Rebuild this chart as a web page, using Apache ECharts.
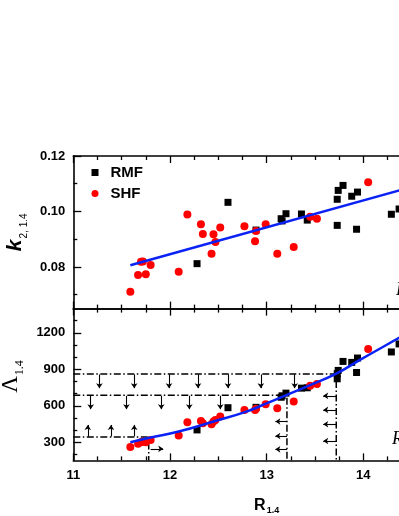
<!DOCTYPE html>
<html>
<head>
<meta charset="utf-8">
<script src="https://cdn.jsdelivr.net/npm/echarts@6/dist/echarts.min.js"></script>
<style>
  html, body { margin: 0; padding: 0; background: #fff; }
  #main { width: 399px; height: 516px; }
</style>
</head>
<body>
<div id="main"></div>
<script>
// RMF models (squares)
var rmfR = [12.28, 12.60, 12.89, 13.15, 13.16, 13.20, 13.36, 13.42, 13.73, 13.73, 13.74, 13.79, 13.88, 13.94, 13.93, 14.29, 14.37];
var rmfK = [0.0812, 0.1033, 0.0933, 0.0974, 0.0966, 0.0992, 0.0991, 0.0969, 0.0950, 0.1044, 0.1076, 0.1094, 0.1055, 0.1070, 0.0936, 0.0990, 0.1009];
var rmfLambda = [401, 584, 587, 670, 682, 704, 745, 748, 822, 864, 891, 965, 957, 993, 874, 1043, 1109];

// SHF models (circles)
var shfR = [11.59, 11.67, 11.70, 11.72, 11.75, 11.80, 12.09, 12.18, 12.32, 12.34, 12.43, 12.45, 12.47, 12.52, 12.77, 12.88, 12.89, 12.99, 13.11, 13.28, 13.45, 13.52, 14.05];
var shfK = [0.0711, 0.0771, 0.0819, 0.0820, 0.0774, 0.0807, 0.0783, 0.0989, 0.0954, 0.0919, 0.0848, 0.0918, 0.0890, 0.0942, 0.0947, 0.0893, 0.0930, 0.0954, 0.0848, 0.0872, 0.0981, 0.0974, 0.1105];
var shfLambda = [260, 288, 300, 306, 299, 318, 355, 465, 475, 456, 448, 470, 483, 511, 566, 566, 576, 613, 580, 635, 764, 779, 1068];

// fits
var fitKR = [11.59, 14.6];
var fitKVal = [0.0806, 0.1098];
var fitLR = [11.59, 11.80, 12.10, 12.45, 12.79, 13.00, 13.21, 13.45, 13.72, 13.97, 14.37, 14.45];
var fitLVal = [299, 338, 390, 470, 552, 620, 690, 770, 864, 980, 1159, 1195];

// constraint lines (dash-dot)
var limitHigh = [[11, 862], [13.72, 862], [13.72, 150]];
var limitMid = [[11, 686], [13.21, 686], [13.21, 150]];
var limitLow = [[11, 343], [11.78, 343], [11.78, 150]];

// arrows
var downHighR = [11.27, 11.63, 11.99, 12.29, 12.60, 12.94, 13.29];
var downMidR = [11.18, 11.55, 11.91, 12.20, 12.52];
var upLowR = [11.15, 11.39, 11.63];
var leftMidL = [470, 351, 241];
var leftHighL = [682, 566, 448, 310];
var rightLowL = [245];

// tick values
var kMajor = [0.08, 0.10, 0.12];
var kMinor = [0.07, 0.09, 0.11];
var lMajor = [300, 600, 900, 1200];
var lMinor = [200, 400, 500, 700, 800, 1000, 1100, 1300];

var FONT = 'Liberation Sans';
var BLUE = '#0a22f5';

function zip(a, b) {
    var out = [];
    for (var i = 0; i < a.length; i++) out.push([a[i], b[i]]);
    return out;
}

var arrows = [];
downHighR.forEach(function (r) { arrows.push({coords: [[r, 858], [r, 745]]}); });
downMidR.forEach(function (r) { arrows.push({coords: [[r, 682], [r, 572]]}); });
upLowR.forEach(function (r) { arrows.push({coords: [[r, 347], [r, 442]]}); });
leftMidL.forEach(function (l) { arrows.push({coords: [[13.21, l], [13.09, l]]}); });
leftHighL.forEach(function (l) { arrows.push({coords: [[13.72, l], [13.585, l]]}); });
rightLowL.forEach(function (l) { arrows.push({coords: [[11.80, l], [11.93, l]]}); });

function xAxis(grid, pos, labels) {
    var ax = {
        type: 'value', gridIndex: grid, position: pos, min: 11, max: 15, interval: 1,
        axisLine: {show: true, onZero: false, lineStyle: {color: '#000', width: 1.6}},
        axisTick: {show: true, inside: true, length: 7, lineStyle: {color: '#000', width: 1.3}},
        minorTick: {show: true, splitNumber: 4, length: 4, lineStyle: {color: '#000', width: 1.3}},
        splitLine: {show: false},
        minorSplitLine: {show: false},
        axisLabel: {show: labels, margin: 9, fontFamily: FONT, fontWeight: 'bold', fontSize: 13, color: '#000'}
    };
    if (labels) {
        ax.name = '{R|R}{s|1.4}';
        ax.nameLocation = 'middle';
        ax.nameGap = 33;
        ax.nameTextStyle = {
            rich: {
                R: {fontFamily: FONT, fontWeight: 'bold', fontSize: 16, color: '#000', lineHeight: 20, verticalAlign: 'bottom'},
                s: {fontFamily: FONT, fontWeight: 'bold', fontSize: 9, color: '#000', verticalAlign: 'bottom', padding: [0, 0, -2, 1]}
            }
        };
    }
    return ax;
}

function yAxis(grid, min, max, major, minor, isMajor, fmt) {
    return {
        type: 'value', gridIndex: grid, position: 'left', min: min, max: max,
        axisLine: {show: isMajor, onZero: false, lineStyle: {color: '#000', width: 1.6}},
        axisTick: {show: true, inside: true, length: isMajor ? 8 : 4,
            customValues: isMajor ? major : minor, lineStyle: {color: '#000', width: 1.3}},
        axisLabel: {show: isMajor, customValues: major, margin: 8, formatter: fmt,
            fontFamily: FONT, fontWeight: 'bold', fontSize: 13, color: '#000'},
        splitLine: {show: false}
    };
}

var yTop = yAxis(0, 0.065, 0.12, kMajor, kMinor, true, function (v) { return v.toFixed(2); });
yTop.name = '{k|k}{s|2, 1.4}';
yTop.nameLocation = 'middle';
yTop.nameGap = 46;
yTop.nameTextStyle = {
    rich: {
        k: {fontFamily: FONT, fontWeight: 'bold', fontStyle: 'italic', fontSize: 21, color: '#000', lineHeight: 24, verticalAlign: 'bottom'},
        s: {fontFamily: FONT, fontSize: 10, color: '#000', verticalAlign: 'bottom', padding: [0, 0, -3, 1]}
    }
};
var yBot = yAxis(1, 150, 1400, lMajor, lMinor, true, function (v) { return String(v); });
yBot.name = '{L|Λ}{s|1.4}';
yBot.nameLocation = 'middle';
yBot.nameGap = 46;
yBot.nameTextStyle = {
    padding: [0, 0, 0, 16],
    rich: {
        L: {fontFamily: 'Liberation Serif', fontSize: 23, color: '#000', lineHeight: 24, verticalAlign: 'bottom'},
        s: {fontFamily: 'Liberation Serif', fontSize: 12, color: '#000', verticalAlign: 'bottom', padding: [0, 0, -3, 1]}
    }
};

var chart = echarts.init(document.getElementById('main'));
chart.setOption({
    animation: false,
    backgroundColor: '#fff',
    grid: [
        {left: 73.3, top: 156, width: 386.7, height: 152.6, containLabel: false, outerBoundsMode: 'none'},
        {left: 73.3, top: 308.6, width: 386.7, height: 151.8, containLabel: false, outerBoundsMode: 'none'}
    ],
    legend: {
        data: [{name: 'RMF', icon: 'rect'}, {name: 'SHF', icon: 'circle'}],
        orient: 'vertical', left: 91.5, top: 165, padding: 0,
        itemWidth: 7, itemHeight: 7, itemGap: 6,
        textStyle: {fontFamily: FONT, fontWeight: 'bold', fontSize: 15, color: '#000', padding: [0, 0, 0, 7]}
    },
    xAxis: [xAxis(0, 'bottom', false), xAxis(0, 'top', false), xAxis(1, 'bottom', true), xAxis(1, 'top', false)],
    yAxis: [
        yTop,
        yAxis(0, 0.065, 0.12, kMajor, kMinor, false),
        yBot,
        yAxis(1, 150, 1400, lMajor, lMinor, false)
    ],
    graphic: [
        {type: 'text', left: 396, top: 281, style: {text: 'R', font: 'italic 18px "Liberation Serif"', fill: '#000'}},
        {type: 'text', left: 392, top: 430, style: {text: 'R', font: 'italic 18px "Liberation Serif"', fill: '#000'}}
    ],
    series: [
        {name: 'RMF', type: 'scatter', xAxisIndex: 0, yAxisIndex: 0, symbol: 'rect', symbolSize: 7,
            itemStyle: {color: '#000', opacity: 1}, data: zip(rmfR, rmfK)},
        {name: 'SHF', type: 'scatter', xAxisIndex: 0, yAxisIndex: 0, symbol: 'circle', symbolSize: 8,
            itemStyle: {color: '#ff0000', opacity: 1}, data: zip(shfR, shfK)},
        {type: 'line', xAxisIndex: 0, yAxisIndex: 0, showSymbol: false, symbol: 'none',
            lineStyle: {color: BLUE, width: 2.5}, data: zip(fitKR, fitKVal), z: 5},
        {type: 'lines', coordinateSystem: 'cartesian2d', xAxisIndex: 2, yAxisIndex: 2, polyline: true,
            symbol: 'none', silent: true,
            lineStyle: {color: '#000', width: 1.5, type: [7, 2.5, 1.5, 2.5], opacity: 1},
            data: [{coords: limitHigh}, {coords: limitMid}, {coords: limitLow}]},
        {type: 'lines', coordinateSystem: 'cartesian2d', xAxisIndex: 2, yAxisIndex: 2,
            symbol: ['none', 'arrow'], symbolSize: 5, silent: true,
            lineStyle: {color: '#000', width: 1.1, opacity: 1},
            data: arrows},
        {name: 'RMF', type: 'scatter', xAxisIndex: 2, yAxisIndex: 2, symbol: 'rect', symbolSize: 7,
            itemStyle: {color: '#000', opacity: 1}, data: zip(rmfR, rmfLambda)},
        {name: 'SHF', type: 'scatter', xAxisIndex: 2, yAxisIndex: 2, symbol: 'circle', symbolSize: 8,
            itemStyle: {color: '#ff0000', opacity: 1}, data: zip(shfR, shfLambda)},
        {type: 'line', xAxisIndex: 2, yAxisIndex: 2, showSymbol: false, symbol: 'none', smooth: true,
            lineStyle: {color: BLUE, width: 2.5}, data: zip(fitLR, fitLVal), z: 5}
    ]
});
</script>
</body>
</html>
